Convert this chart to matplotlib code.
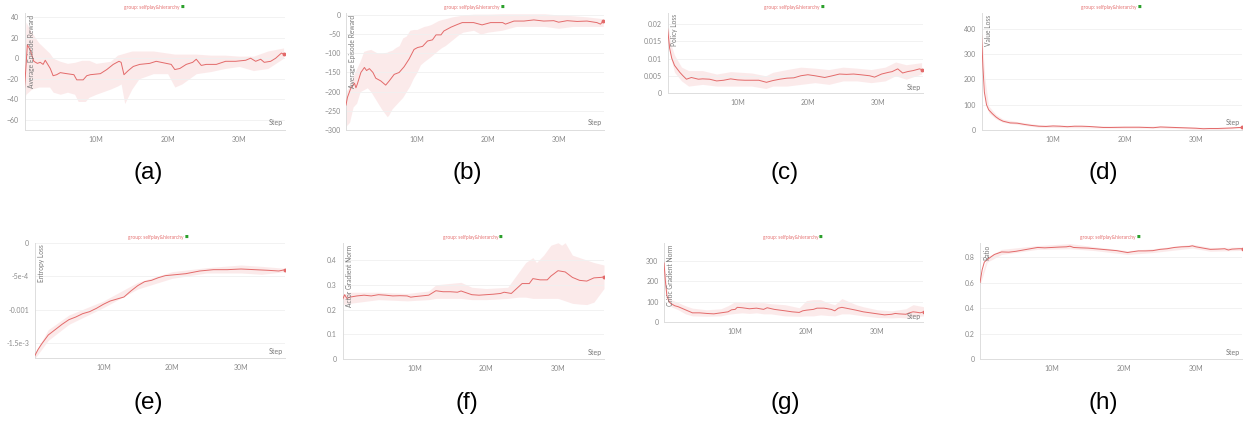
import numpy as np
import matplotlib
matplotlib.use("Agg")
import matplotlib.pyplot as plt

W, H = 1244, 423
LINE = "#e36a6a"
BAND = "#f9d9da"
GRID = "#f0f0f0"
TXT = "#8a8a8a"
GROUP = "group: selfplay&hierarchy"

# (a) Average Episode Reward
a_x = [0, 0.4, 0.8, 1.3, 1.8, 2.2, 2.6, 2.9, 3.6, 4.0, 4.5, 5.0, 5.9, 6.9, 7.3, 8.2, 8.7, 9.2,
       10.6, 11.5, 12.4, 13.2, 13.5, 13.9, 14.5, 15.2, 16.1, 17.5, 18.4, 19.8, 20.5, 21.0, 21.7,
       22.6, 23.5, 24.0, 24.7, 25.4, 26.8, 28.1, 29.5, 30.9, 31.6, 32.3, 33.0, 33.5, 34.4, 35.1,
       35.9, 36.2]
a_y = [-30, 13, 8, -3, -5, -4, -6, -2, -10, -17, -16, -14, -15, -16, -21, -21, -17, -16,
       -15, -11, -6, -3, -4, -16, -12, -8, -6, -5, -3, -5, -6, -11, -10,
       -6, -4, -1, -7, -6, -6, -3, -3, -2, 0, -3, -1, -4, -3, 0,
       5, 4]
a_bx = [0, 0.2, 1, 2, 3.5, 4, 5, 6, 7, 7.5, 8, 8.5, 9, 10, 12, 13, 13.5, 14, 15, 16, 18, 20,
        21, 22, 24, 26, 28, 30, 32, 34, 36.2]
a_hi = [-20, 35, 25, 15, 5, 0, -3, -5, -4, -3, -2, -2, -2, -5, -3, 3, 4, 5, 7, 7, 7, 5,
        4, 4, 4, 3, 3, 2, 2, 7, 10]
a_lo = [-40, -35, -30, -28, -28, -33, -35, -33, -35, -42, -42, -42, -38, -35, -30, -27, -25, -44,
        -30, -20, -15, -15, -28, -25, -15, -13, -10, -8, -12, -10, 0]

# (b) Average Episode Reward
b_x = [0, 0.2, 0.7, 1.2, 1.4, 1.6, 2.1, 2.6, 2.9, 3.3, 3.8, 4.2, 4.9, 5.6, 6.1, 6.8, 7.5, 8.2,
       8.9, 9.6, 10.1, 10.8, 11.5, 12.2, 12.7, 13.4, 13.8, 14.8, 15.7, 16.4, 18.0, 19.2, 20.4,
       22.1, 22.5, 23.7, 25.1, 26.5, 27.9, 29.3, 30.0, 31.2, 32.6, 34.0, 35.4, 35.9, 36.3]
b_y = [-235, -215, -190, -178, -190, -180, -150, -137, -145, -140, -150, -165, -172, -183, -172,
       -155, -150, -135, -115, -90, -85, -82, -68, -65, -52, -52, -42, -32, -25, -20, -20, -26,
       -20, -20, -24, -16, -16, -13, -16, -15, -19, -15, -17, -16, -20, -24, -16]
b_bx = [0, 0.5, 1, 1.5, 2, 2.5, 3, 3.5, 4, 4.5, 5, 5.8, 6, 6.5, 7, 7.5, 8, 8.5, 9, 9.5, 10,
        10.5, 11, 11.5, 12, 12.5, 13, 13.5, 14, 15, 16, 16.5, 18, 19, 20, 22, 24, 26, 28, 30,
        32, 34, 36.3]
b_hi = [-200, -185, -160, -140, -120, -95, -92, -90, -95, -100, -100, -97, -95, -92, -85, -80,
        -60, -55, -40, -38, -38, -34, -30, -28, -25, -20, -15, -12, -10, -5, -2, 0, 2, 2, 2,
        3, 3, 3, 3, 0, -2, -5, -10]
b_lo = [-290, -280, -240, -230, -200, -195, -190, -200, -215, -230, -245, -265, -262, -245,
        -235, -225, -215, -200, -185, -165, -150, -130, -122, -115, -108, -100, -92, -85, -80,
        -65, -50, -45, -40, -50, -45, -40, -30, -30, -30, -35, -30, -30, -30]

# (c) Policy Loss
c_x = [0, 0.3, 0.6, 1.0, 1.75, 2.2, 2.7, 3.4, 4.4, 5, 6, 7, 8, 9, 10, 11, 12, 13, 14.1, 15,
       16, 17, 18, 19, 20, 21, 22.4, 23.5, 24.5, 25.5, 26.5, 27.5, 28.8, 29.5, 30.5, 31.5, 32,
       32.8, 33.5, 34.2, 35, 35.9, 36.2]
c_y = [0.019, 0.013, 0.0101, 0.008, 0.006, 0.005, 0.004, 0.0045, 0.004, 0.0041, 0.004, 0.0035,
       0.0037, 0.0041, 0.0038, 0.0037, 0.0037, 0.0037, 0.0031, 0.0036, 0.004, 0.0043, 0.0044,
       0.005, 0.0053, 0.005, 0.0045, 0.005, 0.0055, 0.0054, 0.0055, 0.0053, 0.005, 0.0046,
       0.0055, 0.006, 0.0062, 0.007, 0.0058, 0.0062, 0.0065, 0.007, 0.0068]
c_bx = [0, 0.5, 1, 2, 3, 5, 7, 9, 12, 14, 15, 17, 19, 21, 23, 25, 27, 29, 31, 32.5, 34, 36.2]
c_hi = [0.021, 0.014, 0.011, 0.0075, 0.0065, 0.0065, 0.0055, 0.0062, 0.0058, 0.005, 0.006,
        0.0068, 0.0075, 0.0072, 0.0068, 0.0075, 0.0072, 0.0068, 0.0075, 0.009, 0.0082, 0.0088]
c_lo = [0.016, 0.010, 0.006, 0.0035, 0.002, 0.0025, 0.002, 0.002, 0.002, 0.0013, 0.002, 0.002,
        0.0025, 0.003, 0.0025, 0.0035, 0.0035, 0.003, 0.0035, 0.005, 0.004, 0.0055]

# (d) Value Loss
d_x = [0, 0.2, 0.4, 0.7, 1, 1.5, 2, 2.5, 3, 4, 5, 6, 7, 8, 9, 10, 11, 12, 13, 14, 15, 16, 17,
       18, 20, 22, 24, 25, 26, 28, 30, 31, 32, 33, 34, 35, 36, 36.4]
d_y = [380, 250, 150, 100, 80, 65, 52, 42, 35, 28, 27, 22, 18, 15, 14, 16, 15, 13, 15, 15, 14,
       12, 10, 10, 11, 11, 9, 12, 11, 9, 7, 5, 6, 6, 7, 8, 10, 10]
d_bx = [0, 0.5, 1, 2, 3, 5, 8, 12, 16, 20, 25, 30, 33, 36.4]
d_hi = [400, 200, 95, 62, 43, 33, 21, 19, 17, 15, 16, 11, 10, 13]
d_lo = [360, 130, 68, 44, 30, 22, 11, 9, 8, 7, 8, 3, 2, 7]

# (e) Entropy Loss
e_x = [0, 0.5, 1, 2, 3, 4, 5, 6, 7, 8, 9, 10, 11, 12, 13, 14, 15, 16, 17, 18, 19, 20, 22, 24,
       26, 28, 30, 32, 34, 35.5, 36.4]
e_y = [-0.0017, -0.0016, -0.00152, -0.00138, -0.0013, -0.00122, -0.00115, -0.00111, -0.00106,
       -0.00103, -0.00098, -0.00092, -0.00087, -0.00084, -0.00081, -0.00072, -0.00064, -0.00058,
       -0.00056, -0.00052, -0.00049, -0.00048, -0.00046, -0.00042, -0.0004, -0.0004, -0.00039,
       -0.0004, -0.00041, -0.00042, -0.0004]
e_bx = [0, 2, 5, 10, 15, 20, 25, 30, 33, 36.4]
e_hi = [-0.00166, -0.00130, -0.00108, -0.00087, -0.00059, -0.00043, -0.00037, -0.00033,
        -0.00035, -0.00038]
e_lo = [-0.00174, -0.00146, -0.00122, -0.00097, -0.00069, -0.00053, -0.00045, -0.00045,
        -0.00047, -0.00043]

# (f) Actor Gradient Norm
f_x = [0, 0.3, 0.6, 1, 2, 3, 4, 5, 6, 7, 8, 9, 9.5, 10, 11, 12, 13, 14, 15, 16, 16.5, 17, 18,
       19, 20, 21, 22, 22.5, 23.5, 25, 26, 26.5, 27.5, 28.5, 29, 30, 31, 32, 33, 34, 35, 36,
       36.4]
f_y = [0.24, 0.26, 0.245, 0.25, 0.255, 0.258, 0.255, 0.26, 0.258, 0.255, 0.256, 0.255, 0.25,
       0.252, 0.255, 0.258, 0.276, 0.272, 0.272, 0.27, 0.275, 0.27, 0.26, 0.258, 0.26, 0.262,
       0.265, 0.27, 0.265, 0.305, 0.305, 0.325, 0.32, 0.32, 0.335, 0.357, 0.352, 0.33, 0.318,
       0.315, 0.328, 0.33, 0.332]
f_bx = [0, 1, 5, 9, 12, 13, 16.5, 18, 20, 23, 24.5, 25.5, 26.5, 27, 28, 29, 30, 30.5, 31, 32,
        33, 34, 35, 36.4]
f_hi = [0.26, 0.27, 0.27, 0.265, 0.275, 0.3, 0.31, 0.29, 0.285, 0.29, 0.35, 0.39, 0.41, 0.39,
        0.42, 0.46, 0.47, 0.46, 0.47, 0.42, 0.41, 0.40, 0.39, 0.38]
f_lo = [0.22, 0.225, 0.24, 0.235, 0.24, 0.245, 0.245, 0.24, 0.24, 0.245, 0.25, 0.25, 0.245,
        0.245, 0.245, 0.245, 0.245, 0.24, 0.235, 0.225, 0.222, 0.22, 0.23, 0.285]

# (g) Critic Gradient Norm
g_x = [0, 0.2, 0.4, 0.7, 1, 1.5, 2, 3, 4, 5, 6, 7, 8, 9, 9.5, 10, 10.3, 11, 12, 13, 14, 14.5,
       15.5, 17, 18, 19, 19.5, 20, 21, 21.5, 22.5, 23.5, 24, 24.5, 25, 26, 27, 28, 29, 30, 31,
       32, 32.5, 33, 34, 34.5, 35, 35.5, 36, 36.5]
g_y = [290, 200, 130, 100, 90, 80, 75, 60, 45, 45, 42, 40, 45, 50, 60, 62, 72, 70, 65, 68, 62,
       70, 62, 55, 50, 47, 55, 58, 62, 68, 68, 62, 55, 68, 72, 65, 58, 50, 45, 40, 35, 38, 42,
       40, 38, 45, 50, 48, 45, 50]
g_bx = [0, 0.5, 1, 2, 3, 4, 6, 8, 9, 10, 11, 12, 13, 14, 15, 17, 19, 20, 21, 22, 23, 24, 25,
        26, 27, 28, 30, 32, 33, 34, 35, 36.5]
g_hi = [300, 140, 110, 95, 80, 68, 60, 65, 80, 100, 95, 100, 95, 95, 90, 85, 70, 105, 110,
        110, 95, 85, 115, 100, 85, 75, 60, 55, 60, 65, 85, 75]
g_lo = [250, 110, 75, 60, 40, 30, 28, 30, 38, 42, 45, 42, 45, 40, 40, 30, 28, 30, 30, 35, 32,
        30, 40, 40, 35, 30, 22, 20, 22, 20, 25, 30]

# (h) Ratio
h_x = [0, 0.3, 0.6, 1, 2, 3, 4, 5, 6, 7, 8, 9, 10, 11, 12, 12.5, 13, 14, 15, 16, 17, 18, 19,
       20, 20.5, 21, 22, 23, 24, 25, 26, 27, 28, 29, 29.5, 30, 31, 32, 33, 34, 34.5, 35, 36,
       36.5]
h_y = [0.6, 0.7, 0.76, 0.78, 0.82, 0.84, 0.838, 0.845, 0.855, 0.865, 0.875, 0.872, 0.875,
       0.878, 0.88, 0.885, 0.875, 0.872, 0.87, 0.865, 0.86, 0.855, 0.85, 0.84, 0.835, 0.84,
       0.848, 0.848, 0.85, 0.86, 0.865, 0.875, 0.88, 0.882, 0.888, 0.88, 0.87, 0.86, 0.862,
       0.865, 0.855, 0.862, 0.865, 0.865]
h_bx = [0, 1, 3, 8, 12.5, 16, 20.5, 24, 29.5, 32, 36.5]
h_hi = [0.62, 0.80, 0.86, 0.89, 0.905, 0.88, 0.85, 0.865, 0.90, 0.875, 0.878]
h_lo = [0.58, 0.76, 0.82, 0.86, 0.865, 0.85, 0.82, 0.835, 0.87, 0.845, 0.852]

panels = [
    dict(tag="(a)", name="Average Episode Reward", x=a_x, y=a_y, bx=a_bx, hi=a_hi, lo=a_lo,
         box=(24.5, 285, 13, 130), ylim=(-69.7, 43.9), yt=[-60, -40, -20, 0, 20, 40], yl=None),
    dict(tag="(b)", name="Average Episode Reward", x=b_x, y=b_y, bx=b_bx, hi=b_hi, lo=b_lo,
         box=(346, 604, 13, 130), ylim=(-300, 5),
         yt=[-300, -250, -200, -150, -100, -50, 0], yl=None),
    dict(tag="(c)", name="Policy Loss", x=c_x, y=c_y, bx=c_bx, hi=c_hi, lo=c_lo,
         box=(667.5, 923, 13, 93), ylim=(0, 0.0232), yt=[0, 0.005, 0.01, 0.015, 0.02],
         yl=["0", "0.005", "0.01", "0.015", "0.02"]),
    dict(tag="(d)", name="Value Loss", x=d_x, y=d_y, bx=d_bx, hi=d_hi, lo=d_lo,
         box=(981.5, 1242, 13, 130), ylim=(0, 463), yt=[0, 100, 200, 300, 400], yl=None),
    dict(tag="(e)", name="Entropy Loss", x=e_x, y=e_y, bx=e_bx, hi=e_hi, lo=e_lo,
         box=(34.5, 285, 243, 358), ylim=(-0.001725, 0), yt=[-0.0015, -0.001, -0.0005, 0],
         yl=["-1.5e-3", "-0.001", "-5e-4", "0"]),
    dict(tag="(f)", name="Actor Gradient Norm", x=f_x, y=f_y, bx=f_bx, hi=f_hi, lo=f_lo,
         box=(342.5, 604, 243, 359), ylim=(0, 0.469), yt=[0, 0.1, 0.2, 0.3, 0.4],
         yl=["0", "0.1", "0.2", "0.3", "0.4"]),
    dict(tag="(g)", name="Critic Gradient Norm", x=g_x, y=g_y, bx=g_bx, hi=g_hi, lo=g_lo,
         box=(664, 923, 243, 322), ylim=(0, 388), yt=[0, 100, 200, 300], yl=None),
    dict(tag="(h)", name="Ratio", x=h_x, y=h_y, bx=h_bx, hi=h_hi, lo=h_lo,
         box=(980, 1242, 243, 359), ylim=(0, 0.91), yt=[0, 0.2, 0.4, 0.6, 0.8],
         yl=["0", "0.2", "0.4", "0.6", "0.8"]),
]

cap_pos = [(148, 173), (467, 173), (785, 173), (1103, 173),
           (148, 403), (467, 403), (785, 403), (1103, 403)]

plt.rcParams["font.family"] = ["Lato", "DejaVu Sans"]
fig = plt.figure(figsize=(W / 100, H / 100), dpi=100)

for p, cap in zip(panels, cap_pos):
    x0, x1, top, bot = p["box"]
    ax = fig.add_axes([x0 / W, 1 - bot / H, (x1 - x0) / W, (bot - top) / H])
    ax.fill_between(p["bx"], p["lo"], p["hi"], color=BAND, alpha=0.55, lw=0, zorder=1)
    ax.plot(p["x"], p["y"], color=LINE, lw=0.7, zorder=3)
    ax.plot(p["x"][-1], p["y"][-1], "o", color=LINE, ms=1.8, zorder=4)
    ax.set_xlim(0, 36.4)
    ax.set_ylim(*p["ylim"])
    ax.set_xticks([10, 20, 30])
    ax.set_xticklabels(["10M", "20M", "30M"])
    ax.set_yticks(p["yt"])
    if p["yl"] is not None:
        ax.set_yticklabels(p["yl"])
    ax.tick_params(length=0, labelsize=5, colors=TXT, pad=4)
    ax.grid(axis="y", color=GRID, lw=0.6, zorder=0)
    for s in ["top", "right"]:
        ax.spines[s].set_visible(False)
    for s in ["left", "bottom"]:
        ax.spines[s].set_color("#dddddd")
        ax.spines[s].set_linewidth(0.7)
    ax.text(0.012, 0.985, p["name"], transform=ax.transAxes, rotation=90,
            ha="left", va="top", fontsize=4.8, color="#777777")
    ax.text(0.99, 0.03, "Step", transform=ax.transAxes, ha="right", va="bottom",
            fontsize=5, color="#777777")
    # group title with green marker
    tx = (x0 + 0.595 * (x1 - x0)) / W
    ty = 1 - (top - 6) / H
    fig.text(tx, ty, GROUP, ha="right", va="center", fontsize=3.5, color="#e57373")
    fig.text(tx + 1.0 / W, ty, "\u25a0", ha="left", va="center", fontsize=2.8,
             color="#2ca02c", family="DejaVu Sans")
    fig.text(cap[0] / W, 1 - cap[1] / H, p["tag"], ha="center", va="center",
             fontsize=17.5, family="Liberation Sans", color="black")

fig.savefig("out.png", dpi=100)
